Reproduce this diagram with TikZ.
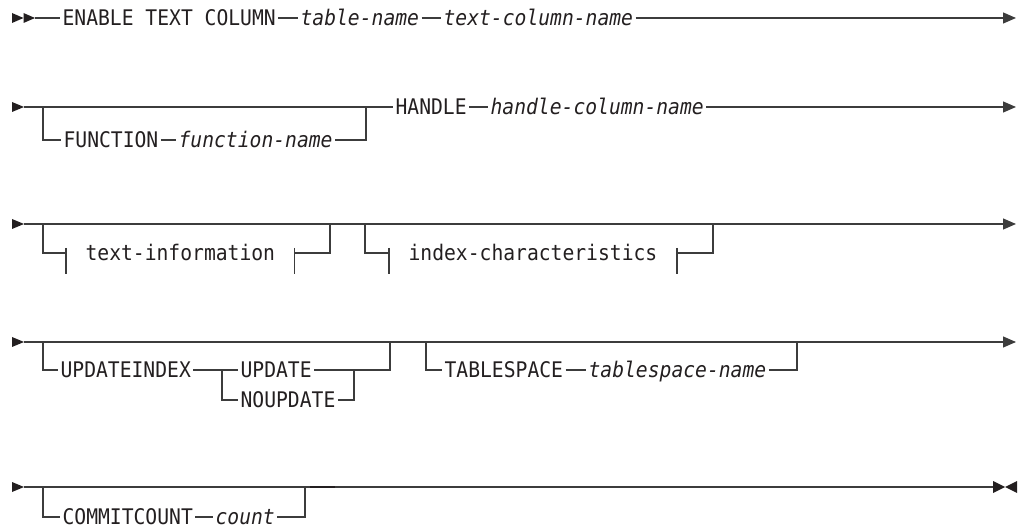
\documentclass[tikz,border=0pt]{standalone}
\usepackage{fontspec}
\usetikzlibrary{arrows.meta}
\newfontfamily\rrfont{DejaVu Sans Mono}[FakeStretch=0.915]
\definecolor{rrline}{HTML}{3C3C3C}
\definecolor{rrtext}{HTML}{231F20}

\begin{document}
\begin{tikzpicture}[x=1pt, y=-1pt, line width=1.2pt, draw=rrline]
  \tikzstyle{kw}=[anchor=west, inner xsep=2pt, inner ysep=0pt, text height=15.7pt, text depth=0pt,
                  text=rrtext, font=\rrfont\fontsize{21.5}{24}\selectfont]
  \tikzstyle{var}=[kw, font=\rrfont\itshape\fontsize{21.5}{24}\selectfont]
  \tikzstyle{frag}=[kw, inner xsep=19pt]
  \tikzstyle{endarrow}=[-{Triangle[length=13pt, width=11pt]}]
  \tikzstyle{railtip}=[fill=rrtext, draw=none]

  \useasboundingbox (0,0) rectangle (1023,529);

  % row 1
  \path[railtip] (12,13) -- (23.5,18) -- (12,23) -- cycle;
  \path[railtip] (23.5,13) -- (35,18) -- (23.5,23) -- cycle;
  \coordinate (r1s) at (35,18);
  \coordinate (r1e) at (1016,18);

  \node[kw]  (enable) at (60,18)  {ENABLE TEXT COLUMN};
  \node[var] (tname)  at (298,18) {table-name};
  \node[var] (tcname) at (441,18) {text-column-name};

  \draw (r1s) -- (enable);
  \draw (enable) -- (tname);
  \draw (tname) -- (tcname);
  \draw[endarrow] (tcname) -- (r1e);

  % row 2
  \path[railtip] (12,102) -- (24,107) -- (12,112) -- cycle;
  \coordinate (r2s) at (24,107);
  \coordinate (r2e) at (1016,107);
  \coordinate (f1) at (43,107);
  \coordinate (f2) at (366,107);

  \node[kw]  (function) at (61,140)  {FUNCTION};
  \node[var] (fname)    at (176,140) {function-name};
  \node[kw]  (handle)   at (393,107) {HANDLE};
  \node[var] (hcname)   at (488,107) {handle-column-name};

  \draw (r2s) -- (f1) -- (f2) -- (handle);
  \draw (f1) |- (function);
  \draw (function) -- (fname);
  \draw (fname) -| (f2);
  \draw (handle) -- (hcname);
  \draw[endarrow] (hcname) -- (r2e);

  % row 3
  \path[railtip] (12,219) -- (24,224) -- (12,229) -- cycle;
  \coordinate (r3s) at (24,224);
  \coordinate (r3e) at (1016,224);
  \coordinate (t1) at (43,224);
  \coordinate (t2) at (330,224);
  \coordinate (t3) at (365,224);
  \coordinate (t4) at (713,224);

  \node[frag] (tinfo) at (66,253)  {text-information};
  \node[frag] (ichar) at (389,253) {index-characteristics};

  \draw[endarrow] (r3s) -- (r3e);
  \draw (t1) |- (tinfo);
  \draw (tinfo) -| (t2);
  \draw (t3) |- (ichar);
  \draw (ichar) -| (t4);
  \draw ([yshift=5pt]tinfo.west) -- ([yshift=-21pt]tinfo.west);
  \draw ([yshift=5pt]tinfo.east) -- ([yshift=-21pt]tinfo.east);
  \draw ([yshift=5pt]ichar.west) -- ([yshift=-21pt]ichar.west);
  \draw ([yshift=5pt]ichar.east) -- ([yshift=-21pt]ichar.east);

  % row 4
  \path[railtip] (12,337) -- (24,342) -- (12,347) -- cycle;
  \coordinate (r4s) at (24,342);
  \coordinate (r4e) at (1016,342);
  \coordinate (u1) at (43,342);
  \coordinate (u2) at (390,342);
  \coordinate (u3) at (426,342);
  \coordinate (u4) at (797,342);
  \coordinate (u5) at (222,370);
  \coordinate (u6) at (354,370);

  \node[kw]  (updidx)   at (58,370)  {UPDATEINDEX};
  \node[kw]  (update)   at (238,370) {UPDATE};
  \node[kw]  (noupdate) at (238,400) {NOUPDATE};
  \node[kw]  (tspace)   at (442,370) {TABLESPACE};
  \node[var] (tsname)   at (586,370) {tablespace-name};

  \draw[endarrow] (r4s) -- (r4e);
  \draw (u1) |- (updidx);
  \draw (updidx) -- (update);
  \draw (u5) |- (noupdate);
  \draw (noupdate) -| (u6);
  \draw (update) -| (u2);
  \draw (u3) |- (tspace);
  \draw (tspace) -- (tsname);
  \draw (tsname) -| (u4);

  % row 5
  \path[railtip] (12,482) -- (24,487) -- (12,492) -- cycle;
  \coordinate (r5s) at (24,487);
  \coordinate (r5e) at (993,487);
  \coordinate (c1) at (43,487);
  \coordinate (c2) at (305,487);
  \coordinate (k1) at (310,487);
  \coordinate (k2) at (335,487);

  \node[kw]  (commit) at (60,517)  {COMMITCOUNT};
  \node[var] (count)  at (213,517) {count};

  \draw (r5s) -- (r5e);
  \draw[line width=2pt, draw=rrtext] (k1) -- (k2);
  \draw (c1) |- (commit);
  \draw (commit) -- (count);
  \draw (count) -| (c2);
  \path[railtip] (993,481) -- (1005,487) -- (993,493) -- cycle;
  \path[railtip] (1017,481) -- (1005,487) -- (1017,493) -- cycle;

\end{tikzpicture}
\end{document}
